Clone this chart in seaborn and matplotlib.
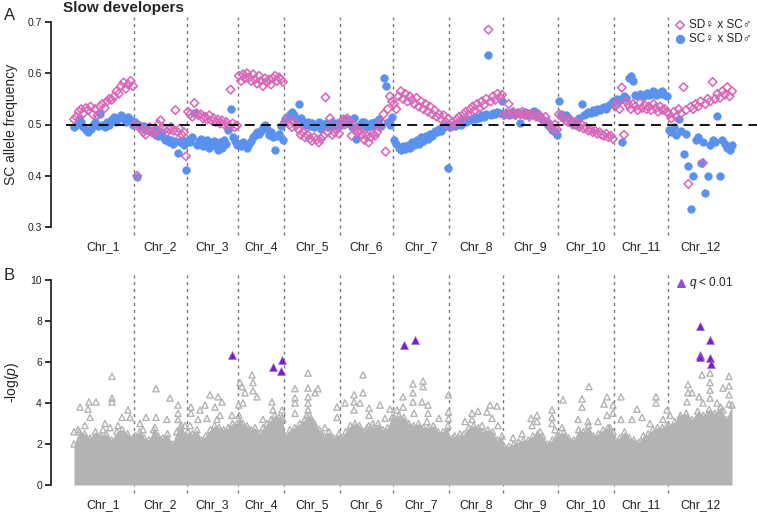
import numpy as np
import pandas as pd
import matplotlib
matplotlib.use("Agg")
import matplotlib.pyplot as plt
import seaborn as sns

chrom_names = ["Chr_%d" % i for i in range(1, 13)]
chrom_len = [61, 53, 51, 46, 56, 53, 56, 54, 55, 56, 54, 65]

# panel A: SC allele frequency along each chromosome
sd_sc = [  # SD female x SC male (pink diamonds)
    [0.510, 0.515, 0.525, 0.530, 0.522, 0.532, 0.528, 0.535, 0.520, 0.530, 0.518, 0.535, 0.540,
     0.532, 0.545, 0.550, 0.548, 0.555, 0.565, 0.560, 0.575, 0.582, 0.570, 0.578, 0.585, 0.575],
    [0.500, 0.400, 0.495, 0.490, 0.485, 0.480, 0.490, 0.495, 0.485, 0.482, 0.490, 0.500, 0.508,
     0.495, 0.490, 0.485, 0.490, 0.495, 0.488, 0.528, 0.485, 0.492, 0.480, 0.485, 0.438],
    [0.525, 0.520, 0.515, 0.542, 0.522, 0.518, 0.520, 0.512, 0.515, 0.510, 0.518, 0.508, 0.512,
     0.505, 0.510, 0.502, 0.508, 0.500, 0.505, 0.498, 0.568, 0.502, 0.495, 0.498],
    [0.595, 0.585, 0.598, 0.590, 0.600, 0.592, 0.585, 0.598, 0.588, 0.580, 0.595, 0.585, 0.575,
     0.590, 0.582, 0.588, 0.578, 0.590, 0.595, 0.585, 0.592, 0.588, 0.583],
    [0.505, 0.510, 0.500, 0.495, 0.505, 0.498, 0.490, 0.480, 0.485, 0.475, 0.480, 0.472, 0.468,
     0.475, 0.470, 0.465, 0.472, 0.478, 0.553, 0.485, 0.512, 0.480, 0.485, 0.490, 0.482],
    [0.505, 0.510, 0.500, 0.512, 0.505, 0.478, 0.498, 0.490, 0.485, 0.488, 0.480, 0.470, 0.478,
     0.465, 0.475, 0.482, 0.478, 0.485, 0.495, 0.505, 0.520, 0.447, 0.530, 0.555, 0.545],
    [0.540, 0.530, 0.555, 0.565, 0.550, 0.560, 0.545, 0.555, 0.548, 0.540, 0.552, 0.535, 0.545,
     0.530, 0.540, 0.525, 0.535, 0.520, 0.528, 0.515, 0.520, 0.510, 0.518, 0.505, 0.512],
    [0.495, 0.505, 0.500, 0.510, 0.515, 0.508, 0.520, 0.525, 0.518, 0.530, 0.535, 0.528, 0.540,
     0.532, 0.545, 0.538, 0.550, 0.685, 0.545, 0.555, 0.548, 0.560, 0.552, 0.558],
    [0.518, 0.522, 0.540, 0.520, 0.525, 0.518, 0.522, 0.520, 0.525, 0.518, 0.520, 0.515, 0.522,
     0.518, 0.515, 0.520, 0.512, 0.508, 0.515, 0.505, 0.498, 0.492, 0.500, 0.490],
    [0.520, 0.515, 0.512, 0.508, 0.505, 0.510, 0.500, 0.505, 0.498, 0.495, 0.500, 0.492, 0.495,
     0.488, 0.490, 0.485, 0.488, 0.482, 0.485, 0.480, 0.478, 0.482, 0.475, 0.478, 0.472],
    [0.535, 0.540, 0.530, 0.572, 0.480, 0.545, 0.538, 0.530, 0.540, 0.535, 0.528, 0.542, 0.532,
     0.538, 0.530, 0.535, 0.528, 0.540, 0.532, 0.525, 0.535, 0.528, 0.530, 0.525],
    [0.520, 0.512, 0.525, 0.515, 0.530, 0.522, 0.573, 0.528, 0.384, 0.535, 0.530, 0.540, 0.535,
     0.545, 0.425, 0.540, 0.550, 0.545, 0.583, 0.550, 0.560, 0.552, 0.565, 0.558, 0.573, 0.555, 0.565],
]
sc_sd = [  # SC female x SD male (blue circles)
    [0.495, 0.500, 0.510, 0.505, 0.495, 0.490, 0.485, 0.492, 0.500, 0.505, 0.498, 0.520, 0.500,
     0.495, 0.505, 0.500, 0.510, 0.515, 0.505, 0.512, 0.518, 0.510, 0.505, 0.515, 0.508, 0.500],
    [0.505, 0.398, 0.500, 0.495, 0.498, 0.490, 0.492, 0.488, 0.485, 0.490, 0.480, 0.478, 0.485,
     0.475, 0.470, 0.472, 0.465, 0.470, 0.462, 0.468, 0.445, 0.465, 0.470, 0.460, 0.412],
    [0.470, 0.465, 0.475, 0.522, 0.460, 0.468, 0.472, 0.458, 0.465, 0.470, 0.455, 0.462, 0.468,
     0.458, 0.450, 0.465, 0.455, 0.470, 0.462, 0.490, 0.530, 0.475, 0.468, 0.460],
    [0.462, 0.458, 0.465, 0.460, 0.455, 0.462, 0.468, 0.475, 0.480, 0.485, 0.482, 0.488, 0.495,
     0.500, 0.492, 0.480, 0.485, 0.475, 0.450, 0.478, 0.482, 0.498, 0.470],
    [0.510, 0.515, 0.520, 0.525, 0.518, 0.510, 0.540, 0.512, 0.505, 0.500, 0.505, 0.498, 0.502,
     0.495, 0.500, 0.505, 0.492, 0.498, 0.502, 0.495, 0.500, 0.505, 0.498, 0.502, 0.500],
    [0.500, 0.505, 0.510, 0.502, 0.508, 0.495, 0.512, 0.472, 0.498, 0.500, 0.505, 0.505, 0.495,
     0.500, 0.502, 0.498, 0.505, 0.500, 0.510, 0.498, 0.590, 0.575, 0.505, 0.500, 0.515],
    [0.470, 0.462, 0.455, 0.450, 0.458, 0.452, 0.460, 0.455, 0.465, 0.460, 0.470, 0.462, 0.475,
     0.468, 0.478, 0.472, 0.482, 0.478, 0.488, 0.485, 0.492, 0.488, 0.495, 0.500, 0.415],
    [0.495, 0.500, 0.498, 0.502, 0.505, 0.500, 0.508, 0.505, 0.510, 0.508, 0.512, 0.510, 0.515,
     0.512, 0.518, 0.515, 0.520, 0.635, 0.518, 0.522, 0.520, 0.525, 0.522, 0.545],
    [0.520, 0.522, 0.518, 0.525, 0.520, 0.522, 0.525, 0.502, 0.520, 0.524, 0.522, 0.518, 0.522,
     0.526, 0.520, 0.515, 0.512, 0.508, 0.505, 0.500, 0.495, 0.490, 0.485, 0.480],
    [0.545, 0.520, 0.515, 0.518, 0.512, 0.508, 0.505, 0.500, 0.505, 0.512, 0.540, 0.518, 0.520,
     0.525, 0.522, 0.528, 0.525, 0.530, 0.528, 0.532, 0.535, 0.530, 0.538, 0.540, 0.545],
    [0.545, 0.550, 0.548, 0.465, 0.555, 0.552, 0.590, 0.595, 0.585, 0.558, 0.555, 0.560, 0.558,
     0.555, 0.562, 0.558, 0.560, 0.565, 0.558, 0.562, 0.560, 0.565, 0.558, 0.555],
    [0.490, 0.485, 0.495, 0.480, 0.510, 0.488, 0.442, 0.482, 0.419, 0.336, 0.400, 0.470, 0.475,
     0.425, 0.465, 0.367, 0.400, 0.460, 0.470, 0.465, 0.517, 0.400, 0.470, 0.462, 0.455, 0.450, 0.460],
]

# panel B: top of the dense cloud of -log(p), 12 evenly spaced bins per chromosome
envelope = [
    [2.0, 2.6, 2.5, 2.3, 2.6, 2.4, 2.5, 2.2, 2.6, 2.7, 2.5, 2.3],
    [2.4, 2.6, 2.3, 2.2, 2.7, 2.4, 2.3, 2.5, 2.0, 2.6, 2.9, 2.4],
    [2.6, 2.5, 2.7, 2.2, 2.4, 2.7, 2.9, 2.8, 2.7, 2.8, 3.0, 3.0],
    [3.4, 3.0, 2.9, 2.7, 2.8, 2.5, 2.8, 3.0, 3.2, 3.4, 3.3, 3.2],
    [2.4, 2.7, 2.8, 3.0, 3.2, 3.4, 3.0, 2.7, 2.4, 2.6, 2.3, 2.5],
    [2.3, 2.6, 2.9, 3.0, 2.9, 2.6, 2.9, 2.8, 3.0, 2.7, 2.8, 3.3],
    [3.3, 3.4, 3.3, 3.0, 2.9, 3.0, 2.8, 2.8, 2.9, 2.6, 2.6, 2.9],
    [2.2, 2.4, 2.3, 2.5, 2.8, 2.9, 2.8, 2.6, 2.7, 2.6, 2.2, 2.4],
    [1.9, 1.9, 2.0, 2.1, 2.2, 2.2, 2.4, 2.5, 2.4, 2.0, 2.2, 2.4],
    [2.4, 2.6, 2.3, 2.2, 2.7, 2.6, 2.9, 2.4, 2.5, 2.7, 2.8, 2.6],
    [2.2, 2.3, 2.6, 2.3, 2.2, 2.1, 2.4, 2.5, 2.7, 2.8, 2.8, 2.9],
    [2.9, 3.1, 3.4, 3.5, 3.2, 3.6, 3.4, 3.7, 3.5, 3.8, 3.2, 3.9],
]
# scattered SNPs above the cloud (position in Mb within chromosome, -log p)
peak_pos = [
    [1, 5, 7, 12, 15, 16, 17, 23, 30, 32, 37, 39, 39, 39, 45, 49, 55, 57],
    [6, 9, 12, 21, 22, 22, 33, 36, 44, 44, 44, 46, 51],
    [3, 4, 4, 11, 13, 18, 20, 23, 28, 30, 31, 33, 35, 45],
    [0.5, 2, 4, 5, 7, 14, 15, 15, 19, 25, 34, 35, 44, 44],
    [11, 11, 11, 11, 23, 24, 24, 24, 24, 24, 29, 31, 34, 41, 53, 53],
    [5, 14, 14, 14, 20, 23, 23, 27, 29, 29, 33, 40, 45, 50],
    [4, 10, 10, 20, 20, 20, 21, 29, 30, 30, 34, 35, 35, 46, 55.5, 55.5, 55.5],
    [4, 11, 16, 23, 23, 29, 33, 38, 41, 43, 48, 49],
    [10, 19, 28, 29, 34, 34, 37, 49, 49, 49, 52],
    [4, 5, 20, 24, 24, 30, 31, 40, 46, 49, 49, 52, 55, 55],
    [7, 7, 18, 23, 28, 36, 42, 42, 49, 53],
    [2, 12, 19, 20, 20, 24, 31, 34, 35, 42, 42, 42, 42, 49, 55, 55, 61, 61, 61, 61],
]
peak_val = [
    [2.6, 2.7, 3.8, 2.9, 3.7, 4.05, 3.3, 4.05, 2.7, 3.0, 2.8, 5.3, 4.24, 4.05, 2.9, 3.3, 3.66, 3.3],
    [3.0, 2.7, 3.3, 2.8, 4.7, 3.3, 3.2, 4.24, 3.9, 3.5, 3.2, 2.8, 2.9],
    [2.9, 3.8, 3.5, 3.2, 3.66, 3.9, 3.25, 4.4, 3.8, 3.2, 4.3, 3.4, 4.05, 3.4],
    [3.9, 5.0, 4.8, 4.0, 4.5, 5.37, 5.0, 4.6, 4.3, 3.2, 4.05, 3.66, 3.66, 3.3],
    [4.7, 4.25, 4.0, 3.5, 3.4, 5.46, 4.73, 4.3, 4.0, 3.66, 3.1, 4.5, 4.7, 2.8, 3.8, 3.3],
    [4.0, 4.4, 4.05, 3.66, 4.0, 5.37, 4.5, 2.8, 3.75, 3.4, 3.0, 3.9, 3.25, 3.7],
    [3.66, 4.3, 3.8, 4.93, 4.5, 4.05, 3.5, 4.05, 5.07, 4.8, 3.1, 3.9, 3.5, 3.25, 4.4, 3.56, 3.25],
    [2.3, 2.5, 3.1, 3.5, 3.2, 3.6, 2.9, 3.56, 3.9, 3.25, 3.85, 2.9],
    [2.3, 2.5, 3.25, 2.9, 3.4, 3.1, 2.6, 3.66, 3.3, 3.0, 2.7],
    [2.8, 4.15, 3.2, 4.2, 3.8, 3.1, 4.8, 3.1, 3.95, 4.3, 3.4, 2.8, 3.9, 3.5],
    [4.3, 3.2, 3.2, 3.7, 3.3, 3.0, 4.3, 4.0, 3.2, 3.66],
    [3.4, 3.25, 4.05, 4.9, 4.5, 4.5, 4.3, 5.37, 4.0, 5.46, 5.0, 4.63, 4.24, 4.0, 4.73, 3.66,
     5.3, 4.83, 4.4, 3.95],
]
# SNPs with q < 0.01
sig_chrom = [3, 4, 4, 4, 7, 7, 12, 12, 12, 12, 12, 12]
sig_pos = [45, 35, 43, 44, 11, 22, 32, 42, 32, 32, 42, 43]
sig_val = [6.34, 5.76, 5.56, 6.1, 6.83, 7.07, 7.76, 7.07, 6.34, 6.25, 6.2, 5.9]

PINK = "#d868b8"
BLUE = "#5a90ee"
PURPLE = "#7a1ec8"
GREY = "#b3b3b3"

starts = np.concatenate([[0], np.cumsum(chrom_len)[:-1]])
centers = starts + np.array(chrom_len) / 2.0


def along(i, n):
    """evenly spread n markers over chromosome i"""
    return starts[i] + np.linspace(1.0, chrom_len[i] - 1.0, n)


rows = []
for i in range(12):
    for x, v in zip(along(i, len(sd_sc[i])), sd_sc[i]):
        rows.append(("SD", x, v))
    for x, v in zip(along(i, len(sc_sd[i])), sc_sd[i]):
        rows.append(("SC", x, v))
df_a = pd.DataFrame(rows, columns=["cross", "pos", "freq"])

env_x = np.concatenate([along(i, len(envelope[i])) for i in range(12)])
env_y = np.concatenate(envelope)
df_peaks = pd.DataFrame({
    "pos": np.concatenate([starts[i] + np.array(peak_pos[i]) for i in range(12)]),
    "logp": np.concatenate(peak_val),
})
df_sig = pd.DataFrame({
    "pos": [starts[c - 1] + p for c, p in zip(sig_chrom, sig_pos)],
    "logp": sig_val,
})

sns.set_style("ticks")
plt.rcParams["font.family"] = ["Liberation Sans", "DejaVu Sans"]
plt.rcParams["mathtext.fontset"] = "custom"
plt.rcParams["mathtext.rm"] = "Liberation Sans"
plt.rcParams["mathtext.it"] = "Liberation Sans:italic"

W, H = 757, 512
fig = plt.figure(figsize=(W / 100, H / 100), dpi=100)


def px_axes(left, top, right, bottom):
    return fig.add_axes([left / W, 1 - bottom / H, (right - left) / W, (bottom - top) / H])


axA = px_axes(51, 22, 757, 227)
axB = px_axes(51, 280, 757, 485)


def style_axis(ax, lo, hi, ticks):
    for s in ["top", "right", "bottom"]:
        ax.spines[s].set_visible(False)
    ax.spines["left"].set_bounds(lo, hi)
    ax.spines["left"].set_linewidth(1.3)
    ax.set_xlim(-22, 684)
    ax.set_ylim(lo, hi)
    ax.set_yticks(ticks)
    ax.tick_params(axis="y", length=4.5, width=1.3, labelsize=7.5, pad=2, colors="#222222")
    ax.set_xticks(centers)
    ax.set_xticklabels(chrom_names)
    ax.tick_params(axis="x", length=0, pad=10, labelsize=8.8, colors="#222222")
    ax.set_xlabel("")
    ax.set_ylabel("")
    for b in starts[1:]:
        ax.axvline(b, ymin=-0.04, ymax=1.025, clip_on=False, color="#777777",
                   lw=1.0, ls=(0, (2.2, 2.8)), zorder=0)


# ---- panel A
sns.scatterplot(data=df_a[df_a.cross == "SC"], x="pos", y="freq", ax=axA, marker="o",
                s=32, color=BLUE, edgecolor=BLUE, linewidth=0.3, zorder=3)
sns.scatterplot(data=df_a[df_a.cross == "SD"], x="pos", y="freq", ax=axA, marker="D",
                s=19, color=PINK, facecolor="none", edgecolor=PINK, linewidth=1.15, zorder=4)
axA.axhline(0.5, xmin=(66 - 51) / 706, xmax=1, color="black", lw=1.3,
            ls=(0, (5.5, 3.5)), zorder=5)
style_axis(axA, 0.3, 0.7, [0.3, 0.4, 0.5, 0.6, 0.7])
axA.set_yticklabels(["0.3", "0.4", "0.5", "0.6", "0.7"])

axA.scatter([0.891], [0.985], transform=axA.transAxes, marker="D", s=19, facecolor="none",
            edgecolor=PINK, linewidth=1.15, clip_on=False)
axA.scatter([0.891], [0.917], transform=axA.transAxes, marker="o", s=32, color=BLUE,
            clip_on=False)
axA.text(0.904, 0.985, "SD\u2640 x SC\u2642", transform=axA.transAxes, va="center",
         ha="left", fontsize=8.5, color="#222222")
axA.text(0.904, 0.917, "SC\u2640 x SD\u2642", transform=axA.transAxes, va="center",
         ha="left", fontsize=8.5, color="#222222")

# ---- panel B
axB.fill_between(env_x, 0, env_y, color=GREY, lw=0, zorder=1)
sns.scatterplot(x=env_x, y=env_y, ax=axB, marker="^", s=20, color=GREY, facecolor="none",
                edgecolor=GREY, linewidth=1.0, zorder=2)
sns.scatterplot(data=df_peaks, x="pos", y="logp", ax=axB, marker="^", s=20, color=GREY,
                facecolor="none", edgecolor=GREY, linewidth=1.0, zorder=2)
sns.scatterplot(data=df_sig, x="pos", y="logp", ax=axB, marker="^", s=34, color=PURPLE,
                edgecolor="#a070e0", linewidth=0.4, zorder=4)
style_axis(axB, 0, 10, [0, 2, 4, 6, 8, 10])

axB.scatter([0.892], [0.985], transform=axB.transAxes, marker="^", s=30, color="#8c4fd8",
            clip_on=False)
axB.text(0.904, 0.985, r"$q$ < 0.01", transform=axB.transAxes, va="center", ha="left",
         fontsize=8.5, color="#222222")

# ---- labels
fig.text(10 / W, 1 - 15 / H, "A", fontsize=12, ha="center", va="center")
fig.text(9 / W, 1 - 276 / H, "B", fontsize=12, ha="center", va="center")
fig.text(63 / W, 1 - 8 / H, "Slow developers", fontsize=11, fontweight="bold",
         ha="left", va="center")
fig.text(11 / W, 1 - 124 / H, "SC allele frequency", rotation=90, fontsize=10,
         ha="center", va="center")
fig.text(12 / W, 1 - 382 / H, "-log($p$)", rotation=90, fontsize=10,
         ha="center", va="center")

fig.savefig("out.png", dpi=100)
